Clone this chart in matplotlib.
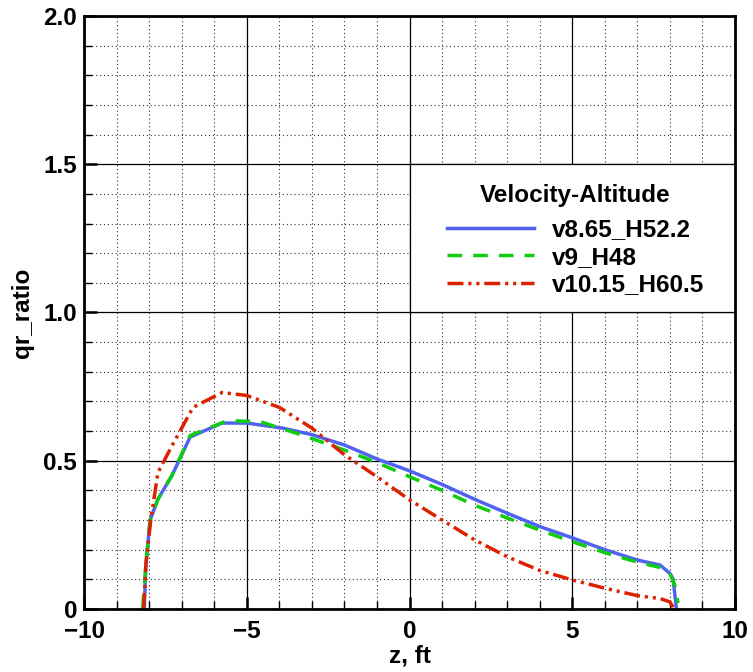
import matplotlib
matplotlib.use('Agg')
from matplotlib import pyplot as plt
from matplotlib.patches import Rectangle
from matplotlib.ticker import MultipleLocator
import numpy as np

# qr_ratio along the body, three velocity-altitude cases
z_a = [-8.15, -8.1, -7.97, -7.73, -7.3, -6.74, -5.76, -5.0, -3.9, -3.0, -2.0, -1.0, 0.0,
       1.0, 2.0, 3.0, 4.0, 5.0, 6.0, 7.0, 7.7, 8.0, 8.1, 8.2]
qr_a = [0.0, 0.15, 0.30, 0.37, 0.45, 0.58, 0.627, 0.627, 0.61, 0.588, 0.553, 0.506, 0.466,
        0.42, 0.37, 0.323, 0.278, 0.24, 0.2, 0.165, 0.148, 0.12, 0.1, 0.0]

z_b = [-8.2, -8.1, -7.97, -7.73, -7.3, -6.74, -5.6, -4.6, -3.4, -2.0, -1.0, 0.0,
       1.0, 2.0, 3.0, 4.0, 5.0, 6.0, 7.0, 7.7, 8.0, 8.15, 8.25]
qr_b = [0.0, 0.15, 0.30, 0.37, 0.45, 0.585, 0.635, 0.632, 0.59, 0.536, 0.494, 0.446,
        0.40, 0.35, 0.307, 0.266, 0.227, 0.19, 0.158, 0.14, 0.12, 0.08, 0.02]

z_c = [-8.17, -8.1, -7.95, -7.73, -7.3, -7.05, -6.65, -5.76, -5.0, -4.0, -3.0, -2.0, -1.0, 0.0,
       1.0, 2.0, 3.0, 4.0, 5.0, 6.0, 7.0, 7.7, 8.0, 8.13]
qr_c = [0.0, 0.15, 0.30, 0.46, 0.55, 0.60, 0.68, 0.73, 0.72, 0.68, 0.61, 0.52, 0.446, 0.368,
        0.30, 0.233, 0.176, 0.13, 0.098, 0.07, 0.045, 0.035, 0.024, 0.0]

labels = ['v8.65_H52.2', 'v9_H48', 'v10.15_H60.5']

plt.rcParams['font.family'] = ['Liberation Sans', 'DejaVu Sans']
plt.rcParams['font.weight'] = 'bold'
FS = 17.5

fig = plt.figure(figsize=(7.53, 6.72), dpi=100)
ax = fig.add_axes([0.1116, 0.0938, 0.8645, 0.8824])

ax.plot(z_a, qr_a, color='#4f62f2', lw=2.5, label=labels[0], zorder=3)
ax.plot(z_b, qr_b, color='#10cc10', lw=2.5, dashes=(4.2, 3.2), label=labels[1], zorder=3)
ax.plot(z_c, qr_c, color='#dd2200', lw=2.5, dashes=(4.6, 1.4, 0.9, 1.4, 0.9, 1.4), label=labels[2], zorder=3)

ax.set_xlim(-10, 10)
ax.set_ylim(0, 2)
ax.xaxis.set_major_locator(MultipleLocator(5))
ax.xaxis.set_minor_locator(MultipleLocator(1))
ax.yaxis.set_major_locator(MultipleLocator(0.5))
ax.yaxis.set_minor_locator(MultipleLocator(0.1))
ax.set_yticks([0, 0.5, 1.0, 1.5, 2.0])
ax.set_yticklabels(['0', '0.5', '1.0', '1.5', '2.0'])

ax.grid(which='major', color='black', lw=0.9, ls='-')
ax.grid(which='minor', color='#333333', lw=0.8, ls=(0, (1, 2.5)))
ax.set_axisbelow(True)

ax.tick_params(which='major', direction='in', length=9, width=1.8, labelsize=FS)
ax.tick_params(axis='x', which='major', pad=8)
ax.tick_params(axis='y', which='major', pad=5)
ax.tick_params(which='minor', direction='in', length=6, width=1.0)
for s in ax.spines.values():
    s.set_linewidth(2.0)
    s.set_zorder(4)

ax.set_xlabel('z, ft', fontsize=FS, fontweight='bold', labelpad=1)
ax.set_ylabel('qr_ratio', fontsize=FS, fontweight='bold', labelpad=7)

# white panel behind the legend, bounded by the grid cell it sits in
ax.add_patch(Rectangle((0, 1.0), 10, 0.5, facecolor='white', edgecolor='black',
                       lw=0.9, zorder=1.5))

leg = ax.legend(loc='center', bbox_to_anchor=(0.755, 0.622), fontsize=FS,
                title='Velocity-Altitude', title_fontproperties={'weight': 'bold', 'size': FS},
                handlelength=3.6, handletextpad=0.75, labelspacing=0.18, borderpad=0.3,
                frameon=False)
leg._legend_box.sep = 8

fig.savefig('out.png', dpi=100)
